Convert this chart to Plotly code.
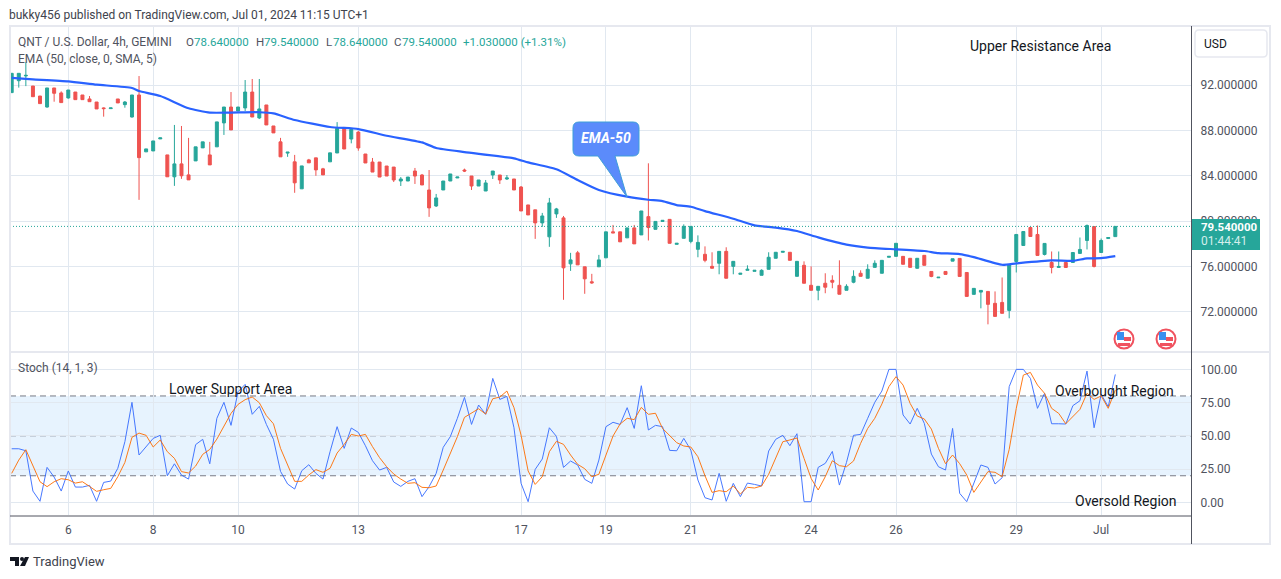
import plotly.graph_objects as go

# 4h candles
opens = [91.33,92.38,92.80,91.91,91.03,90.06,91.74,91.30,90.86,91.38,
91.12,90.77,90.50,89.98,89.92,90.77,90.27,89.18,91.12,86.11,
86.19,87.25,85.84,83.91,85.05,84.08,85.31,86.46,85.84,86.55,
88.66,90.06,89.71,89.98,91.38,89.10,90.24,88.39,86.99,86.00,
85.23,82.85,85.40,85.58,84.61,85.23,86.01,88.26,87.24,87.85,
85.92,85.21,85.21,84.86,84.77,83.54,83.54,84.42,84.07,82.75,
81.34,82.75,83.54,83.81,84.51,83.98,83.10,82.66,84.07,84.07,
83.72,83.72,83.01,81.43,81.00,79.85,78.62,80.64,80.29,76.24,
77.21,75.98,74.66,75.98,76.77,79.06,79.06,78.53,79.41,78.79,
80.40,79.28,79.98,80.16,77.96,78.49,78.22,77.52,77.08,76.02,
76.29,77.34,76.02,75.32,75.67,75.58,75.23,75.76,76.73,77.26,
77.26,75.14,76.11,74.35,73.91,74.53,74.79,74.35,73.91,74.62,
75.41,74.97,75.93,75.41,76.82,76.90,76.90,76.73,75.85,76.99,
75.57,75.01,75.57,76.48,76.72,75.48,73.55,73.75,73.81,72.76,
72.84,72.14,76.45,77.86,79.44,78.83,77.07,76.36,75.92,76.36,
76.36,77.16,78.30,79.53,77.24,78.47,78.64]
highs = [93.03,93.03,94.00,91.91,91.03,91.74,91.74,91.44,91.56,91.38,
91.12,91.03,90.50,90.03,89.98,90.77,90.59,91.12,92.79,86.37,
87.07,87.34,85.84,88.48,88.39,87.34,86.55,86.99,86.99,88.75,
90.06,91.38,90.06,92.44,92.53,92.53,90.24,88.39,87.34,86.08,
85.84,84.87,85.49,85.58,84.70,86.02,88.73,88.26,88.09,87.94,
85.92,85.57,85.21,84.86,84.77,83.89,83.89,84.69,84.16,84.51,
82.40,83.54,84.16,83.89,84.63,83.98,83.63,83.63,84.42,84.07,
84.07,83.72,83.10,81.43,81.00,80.73,82.05,81.17,80.46,77.21,
77.38,75.98,75.36,77.03,79.06,79.67,79.06,79.41,79.67,80.90,
85.10,79.98,80.07,80.16,78.05,79.72,79.54,78.75,77.78,77.26,
77.34,77.70,76.46,75.41,76.11,75.67,75.76,77.26,77.26,77.34,
77.26,76.46,76.46,76.02,74.26,75.41,75.23,76.55,74.44,75.67,
75.67,76.20,76.55,76.55,76.90,78.05,76.90,76.73,76.73,76.99,
75.57,75.06,75.57,76.69,76.72,75.48,74.08,73.90,73.81,73.81,
75.04,76.19,78.83,79.09,79.44,79.62,78.04,77.33,77.33,76.36,
77.24,78.56,79.71,79.53,78.47,78.56,79.54]
lows = [91.33,91.77,91.90,90.97,90.36,90.00,90.53,90.45,90.80,90.71,
90.71,90.53,89.89,89.21,89.92,90.42,90.00,89.13,81.88,86.11,
86.19,87.25,83.91,83.11,83.73,83.64,85.31,86.46,84.96,86.55,
87.60,88.04,89.71,89.71,89.18,89.00,88.48,87.78,85.67,85.67,
82.50,82.85,85.14,84.00,84.08,85.23,86.01,86.36,86.86,86.21,
85.13,84.33,83.89,83.98,83.45,83.10,83.54,83.28,83.19,80.38,
81.25,82.75,83.54,83.81,84.33,82.75,83.10,82.66,83.72,83.28,
83.63,82.75,80.90,80.55,78.44,79.50,77.74,80.29,73.07,75.62,
76.15,73.60,74.48,75.98,76.77,78.97,78.18,78.53,78.00,78.79,
78.30,79.28,79.98,78.05,77.96,78.49,78.05,76.82,76.38,75.85,
75.32,74.97,75.32,75.32,75.67,75.58,75.23,75.76,76.73,77.26,
76.55,75.14,74.53,73.91,73.03,73.65,74.09,73.56,73.91,74.53,
75.14,74.97,75.93,75.41,76.82,76.90,76.20,75.93,75.82,76.11,
75.06,75.01,75.31,76.48,75.13,73.37,73.55,72.32,70.91,71.61,
71.88,71.44,75.48,77.86,78.65,76.98,76.98,75.40,75.92,75.92,
76.36,77.16,77.51,75.92,77.24,78.47,78.64]
closes = [93.03,93.03,92.85,90.97,90.36,91.74,91.27,90.45,91.56,90.71,
90.71,90.53,89.89,89.92,89.98,90.42,90.50,91.12,85.60,86.37,
87.07,87.34,83.91,85.05,84.00,83.64,86.55,86.99,84.96,88.75,
90.06,88.04,90.06,91.38,89.18,89.89,88.48,87.78,85.67,86.08,
83.38,84.87,85.14,84.52,84.08,86.02,88.18,86.36,88.09,86.45,
85.13,84.33,83.89,83.98,83.63,83.72,83.89,83.98,83.19,81.17,
82.05,83.54,84.16,83.89,84.42,83.10,83.63,83.37,84.42,83.63,
83.81,82.75,80.90,80.55,79.85,80.46,81.61,81.08,75.89,76.59,
76.15,74.92,74.57,76.59,79.06,78.97,78.18,79.41,78.00,80.90,
79.44,79.98,80.07,78.05,78.05,79.54,79.54,78.13,76.55,75.85,
77.34,74.97,76.46,75.41,75.76,75.67,75.67,76.82,77.26,77.34,
76.55,76.46,74.53,73.91,74.26,74.18,74.62,73.56,74.26,75.14,
75.14,75.76,76.29,76.55,76.90,78.05,76.20,75.93,76.73,76.11,
75.13,75.06,75.31,76.69,75.13,73.37,74.08,73.90,72.67,71.61,
71.88,76.19,78.83,79.09,78.65,76.98,78.04,75.92,76.01,75.92,
77.24,77.51,79.62,76.01,78.30,78.56,79.54]

# EMA 50, read at the bars where the curve bends
ema_bars = [0,3,8,12,17,18,21,25,28,31,35,37,40,45,49,53,58,60,64,71,73,77,80,83,87,90,
            92,94,96,98,102,105,108,111,114,118,121,125,129,131,134,136,140,142,147,150,152,154,156]
ema_vals = [92.62,92.50,92.32,92.03,91.74,91.47,91.03,89.95,89.57,89.57,89.60,89.50,88.92,88.30,88.12,87.53,86.94,86.45,86.09,85.54,85.18,84.57,83.63,82.75,82.16,81.89,
            81.77,81.42,81.27,80.89,80.22,79.63,79.43,79.13,78.57,77.93,77.67,77.52,77.37,77.19,77.10,76.83,76.16,76.28,76.54,76.51,76.72,76.74,76.92]

stoch_k = [40.3,40.3,38.8,8.5,0.8,26.3,19.0,8.5,23.6,11.5,
11.5,12.8,0.8,15.0,16.0,25.6,45.6,75.2,35.6,41.6,
48.1,50.4,20.0,29.0,20.5,17.5,43.4,47.4,29.0,63.2,
75.2,57.9,83.2,88.7,66.2,72.2,58.6,47.4,23.3,13.8,
10.0,23.8,28.3,21.8,17.5,38.1,56.9,40.6,55.9,52.6,
42.6,31.3,24.3,26.3,15.3,12.0,15.8,17.8,4.3,11.8,
21.8,41.4,49.4,63.2,78.9,58.6,73.2,66.2,93.2,77.4,
79.7,56.1,14.3,0.5,24.8,32.6,56.1,49.6,26.3,31.1,
28.1,17.3,14.3,31.8,56.9,60.2,58.6,71.2,55.6,87.7,
54.4,57.9,56.9,39.1,38.8,48.1,39.3,16.8,3.5,1.8,
21.8,0.8,14.3,4.3,14.5,13.5,12.3,38.6,47.4,50.4,
42.6,51.6,0.5,0.5,26.3,29.3,38.3,13.0,30.0,50.4,
51.1,63.2,75.2,83.7,100.0,100.0,65.7,58.9,70.7,59.4,
36.3,26.8,24.3,55.6,6.8,0.5,15.0,28.1,26.3,13.8,
18.5,87.0,100.0,100.0,93.2,70.7,82.0,59.1,59.1,58.9,
72.7,76.4,98.7,56.1,81.2,71.9,96.2]
stoch_d = [21.8,31.8,39.6,28.0,15.5,11.8,15.5,17.8,17.0,14.5,
15.5,12.0,8.3,9.5,10.5,19.3,30.0,48.9,52.1,50.4,
41.6,46.9,38.1,33.1,23.1,22.1,27.3,36.1,39.8,47.6,
57.6,66.9,73.7,77.2,79.2,74.9,65.2,59.1,40.6,27.6,
15.8,15.8,20.6,24.6,22.6,25.6,37.1,43.6,51.1,49.9,
51.1,41.9,33.6,26.8,21.3,17.5,14.3,14.8,11.3,11.0,
12.3,24.3,36.3,49.4,63.9,66.9,70.4,66.4,77.9,79.2,
83.7,71.2,50.6,23.6,13.5,19.3,38.1,45.9,43.6,35.6,
28.6,25.3,19.3,21.1,35.6,49.9,58.9,63.2,62.2,71.4,
66.2,67.0,55.6,50.6,44.9,42.4,41.6,34.3,20.0,7.5,
8.8,8.0,12.3,6.3,11.3,10.8,12.3,21.1,33.1,45.6,
46.9,48.4,33.1,18.0,9.3,19.3,31.3,27.6,26.8,31.1,
44.4,55.6,63.2,73.9,87.0,94.5,88.2,74.4,64.9,62.7,
55.1,40.6,29.1,35.6,29.1,20.6,7.5,15.0,23.1,22.6,
19.3,39.8,70.7,95.7,97.7,88.2,82.0,70.7,66.9,59.1,
64.4,69.9,82.0,77.4,80.0,70.7,84.5]

date_bars = [8,20,32,49,72,84,96,113,125,142,154]
date_labels = ["6","8","10","13","17","19","21","24","26","29","Jul"]
price_ticks = [72,76,80,84,88,92]
stoch_ticks = [0,25,50,75,100]
last_price = 79.54

W, H = 1281, 579
FONT = "Roboto"
GREEN = "#26a69a"
RED = "#ef5350"
GRID = "#e1e8f0"
GRAY = "#50535e"
BORDER = "#e6e8ef"
AXIS = "#50535e"


# layout helpers, screen pixels to paper
def px(x):
    return x / W


def py(y):
    return 1 - y / H


def pth(cmds):
    out = []
    for c in cmds:
        if len(c) == 1:
            out.append(c[0])
        else:
            out.append("%s%.5f,%.5f" % (c[0], px(c[1]), py(c[2])))
    return " ".join(out)


def rounded(x0, y0, x1, y1, r):
    return [("M", x0 + r, y0), ("L", x1 - r, y0), ("Q", x1, y0), ("", x1, y0 + r), ("L", x1, y1 - r),
            ("Q", x1, y1), ("", x1 - r, y1), ("L", x0 + r, y1), ("Q", x0, y1), ("", x0, y1 - r),
            ("L", x0, y0 + r), ("Q", x0, y0), ("", x0 + r, y0), ("Z",)]


bars = list(range(len(opens)))

fig = go.Figure()
fig.add_trace(go.Candlestick(x=bars, open=opens, high=highs, low=lows, close=closes,
                             increasing=dict(line=dict(color=GREEN, width=1), fillcolor=GREEN),
                             decreasing=dict(line=dict(color=RED, width=1), fillcolor=RED),
                             whiskerwidth=0, showlegend=False, hoverinfo="skip",
                             xaxis="x", yaxis="y"))
fig.add_trace(go.Scatter(x=ema_bars, y=ema_vals, mode="lines",
                         line=dict(color="#2962ff", width=2.2, shape="spline", smoothing=0.5),
                         showlegend=False, xaxis="x", yaxis="y"))
fig.add_trace(go.Scatter(x=bars, y=stoch_k, mode="lines", line=dict(color="#2962ff", width=1),
                         opacity=0.85, showlegend=False, xaxis="x2", yaxis="y2"))
fig.add_trace(go.Scatter(x=bars, y=stoch_d, mode="lines", line=dict(color="#ff6d00", width=1),
                         opacity=0.9, showlegend=False, xaxis="x2", yaxis="y2"))

shapes = []
# stochastic band and its dashed levels
shapes.append(dict(type="rect", xref="x2 domain", yref="y2", x0=0, x1=1, y0=20, y1=80,
                   fillcolor="rgba(33,150,243,0.11)", line_width=0, layer="below"))
for lvl, col in [(80, "#787b86"), (50, "#8f94a0"), (20, "#787b86")]:
    shapes.append(dict(type="line", xref="x2 domain", yref="y2", x0=0, x1=1, y0=lvl, y1=lvl,
                       line=dict(color=col, width=1, dash="6px,4px"), layer="below"))
# last price line
shapes.append(dict(type="line", xref="x domain", yref="y", x0=0, x1=1, y0=last_price, y1=last_price,
                   line=dict(color=GREEN, width=1, dash="1px,2px")))
# frame and panel rules
shapes.append(dict(type="rect", xref="paper", yref="paper", x0=px(10), x1=px(1270), y0=py(544), y1=py(26),
                   line=dict(color=BORDER, width=2)))
shapes.append(dict(type="line", xref="paper", yref="paper", x0=px(10), x1=px(1270), y0=py(352), y1=py(352),
                   line=dict(color=BORDER, width=2)))
shapes.append(dict(type="line", xref="paper", yref="paper", x0=px(10), x1=px(1191.5), y0=py(516), y1=py(516),
                   line=dict(color=AXIS, width=1)))
shapes.append(dict(type="line", xref="paper", yref="paper", x0=px(1191.5), x1=px(1191.5), y0=py(544), y1=py(26),
                   line=dict(color=AXIS, width=1)))
# price tag on the axis
shapes.append(dict(type="rect", xref="paper", yref="paper", x0=px(1192), x1=px(1260), y0=py(250), y1=py(219),
                   fillcolor=GREEN, line_width=0))
# currency box
shapes.append(dict(type="path", xref="paper", yref="paper", fillcolor="white", line=dict(color=BORDER, width=1.5),
                   path=pth(rounded(1195, 30, 1267, 57, 4))))
# EMA-50 callout
shapes.append(dict(type="path", xref="paper", yref="paper", fillcolor="#5b8bfb",
                   line=dict(color="#3f9fd8", width=1),
                   path=pth([("M", 579, 122), ("L", 633, 122), ("Q", 639, 122), ("", 639, 128), ("L", 639, 150),
                             ("Q", 639, 156), ("", 633, 156), ("L", 615, 156), ("L", 627, 197), ("L", 598, 156),
                             ("L", 579, 156), ("Q", 573, 156), ("", 573, 150), ("L", 573, 128),
                             ("Q", 573, 122), ("", 579, 122), ("Z",)])))
# flag icons
for cx in [1124, 1166]:
    shapes.append(dict(type="circle", xref="paper", yref="paper", x0=px(cx - 9.5), x1=px(cx + 9.5),
                       y0=py(339 + 9.5), y1=py(339 - 9.5), fillcolor="white", line=dict(color="#f0525f", width=2)))
    shapes.append(dict(type="rect", xref="paper", yref="paper", x0=px(cx - 7), x1=px(cx), y0=py(340), y1=py(332),
                       fillcolor="#3a8ff0", line_width=0))
    shapes.append(dict(type="rect", xref="paper", yref="paper", x0=px(cx), x1=px(cx + 7), y0=py(341), y1=py(337),
                       fillcolor="#f0525f", line_width=0))
    shapes.append(dict(type="rect", xref="paper", yref="paper", x0=px(cx - 6), x1=px(cx + 6), y0=py(346), y1=py(343),
                       fillcolor="#f0525f", line_width=0))
# TradingView mark
shapes.append(dict(type="path", xref="paper", yref="paper", fillcolor="#131722", line_width=0,
                   path=pth([("M", 10, 557), ("L", 19, 557), ("L", 19, 566), ("L", 15, 566), ("L", 15, 561),
                             ("L", 10, 561), ("Z",)])))
shapes.append(dict(type="circle", xref="paper", yref="paper", x0=px(20), x1=px(24), y0=py(561), y1=py(557),
                   fillcolor="#131722", line_width=0))
shapes.append(dict(type="path", xref="paper", yref="paper", fillcolor="#131722", line_width=0,
                   path=pth([("M", 25, 557), ("L", 29, 557), ("L", 25, 566), ("L", 20, 566), ("Z",)])))


def note(x, y, text, size=12, color=GRAY, anchor="left"):
    # annotations pad their box by a couple of pixels
    if anchor == "left":
        x = x - 2
    return dict(xref="paper", yref="paper", x=px(x), y=py(y), text=text, showarrow=False, xanchor=anchor,
                yanchor="middle", font=dict(family=FONT, size=size, color=color))


annotations = [
    note(9, 15, "bukky456 published on TradingView.com, Jul 01, 2024 11:15 UTC+1", color="#40434d"),
    note(18, 42, "QNT / U.S. Dollar, 4h, GEMINI"),
    note(186, 42, "O", size=11.5), note(194, 42, "78.640000", size=11.5, color=GREEN),
    note(256, 42, "H", size=11.5), note(264, 42, "79.540000", size=11.5, color=GREEN),
    note(326, 42, "L", size=11.5), note(333, 42, "78.640000", size=11.5, color=GREEN),
    note(394, 42, "C", size=11.5), note(402, 42, "79.540000", size=11.5, color=GREEN),
    note(463, 42, "+1.030000 (+1.31%)", size=11.5, color=GREEN),
    note(18, 59, "EMA (50, close, 0, SMA, 5)"),
    note(18, 368, "Stoch (14, 1, 3)"),
    note(1040, 46, "Upper Resistance Area", size=14, color="#131722", anchor="center"),
    note(230, 389, "Lower Support Area", size=14, color="#131722", anchor="center"),
    note(1114, 391, "Overbought Region", size=14, color="#131722", anchor="center"),
    note(1126, 501, "Oversold Region", size=14, color="#131722", anchor="center"),
    note(606, 138, "<b><i>EMA-50</i></b>", size=14, color="white", anchor="center"),
    note(1201, 227, "<b>79.540000</b>", color="white", size=11.5),
    note(1201, 241.5, "01:44:41", color="#d3eeeb", size=12),
    note(1204, 44, "USD", color="#131722"),
    note(33, 561, "TradingView", size=13, color="#40434d"),
]

fig.update_layout(
    width=W, height=H, autosize=False, margin=dict(l=0, r=0, t=0, b=0),
    paper_bgcolor="white", plot_bgcolor="white", showlegend=False, boxgap=0.4, hovermode=False,
    shapes=shapes, annotations=annotations,
    font=dict(family=FONT, size=12, color=GRAY),
    xaxis=dict(domain=[px(10), px(1191)], range=[-0.24, 166.7], anchor="y", tickvals=date_bars, showticklabels=False,
               gridcolor=GRID, gridwidth=1, showline=False, zeroline=False, ticks="", rangeslider=dict(visible=False)),
    yaxis=dict(domain=[py(351), py(26)], range=[68.56, 97.2], anchor="x", side="right", tickvals=price_ticks,
               tickformat=".6f", gridcolor=GRID, gridwidth=1, showline=False, zeroline=False,
               ticks="outside", ticklen=6, tickcolor="rgba(0,0,0,0)"),
    xaxis2=dict(domain=[px(10), px(1191)], range=[-0.24, 166.7], anchor="y2", tickvals=date_bars, ticktext=date_labels,
                gridcolor=GRID, gridwidth=1, showline=False, zeroline=False, ticks="outside", ticklen=4,
                tickcolor="rgba(0,0,0,0)"),
    yaxis2=dict(domain=[py(515), py(353)], range=[-9.5, 112.3], anchor="x2", side="right", tickvals=stoch_ticks,
                tickformat=".2f", gridcolor=GRID, gridwidth=1, showline=False, zeroline=False,
                ticks="outside", ticklen=6, tickcolor="rgba(0,0,0,0)"),
)

fig.write_html("out.html", config=dict(displayModeBar=False), post_script="document.body.style.margin='0';")
